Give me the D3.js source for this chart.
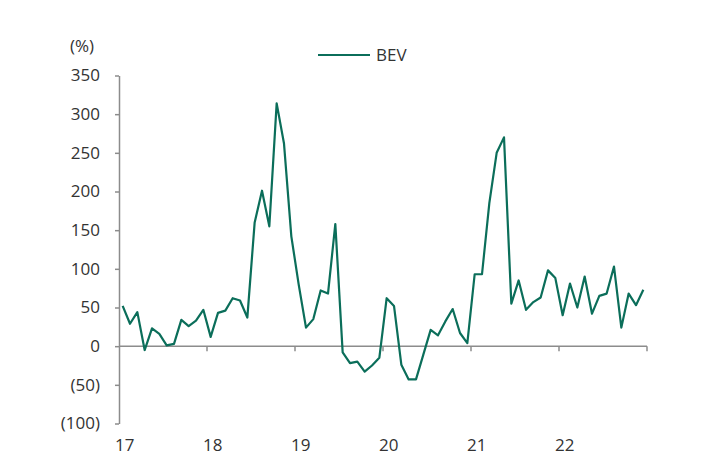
<!DOCTYPE html>
<html>
<head>
<meta charset="utf-8">
<script src="https://cdn.jsdelivr.net/npm/d3@7"></script>
<style>
  html, body { margin: 0; padding: 0; background: #fff; }
  svg { display: block; }
  text { font-family: "Open Sans", "Noto Sans", sans-serif; fill: #333; }
</style>
</head>
<body>
<svg id="chart" width="709" height="475"></svg>
<script>
const years = ["17", "18", "19", "20", "21", "22"];
const yTicks = [-100, -50, 0, 50, 100, 150, 200, 250, 300, 350];
const seriesName = "BEV";
const bev2017 = [52, 29, 44, -5, 23, 16, 1, 3, 34, 26, 33, 47];
const bev2018 = [12, 43, 46, 62, 59, 37, 160, 201, 155, 314, 262, 142];
const bev2019 = [80, 24, 35, 72, 68, 158, -8, -22, -20, -33, -25, -15];
const bev2020 = [62, 52, -24, -43, -43, -11, 21, 14, 32, 48, 17, 4];
const bev2021 = [93, 93, 185, 250, 270, 55, 85, 47, 57, 63, 98, 88];
const bev2022 = [40, 81, 50, 90, 42, 65, 68, 103, 24, 68, 53, 73];

const values = [].concat(bev2017, bev2018, bev2019, bev2020, bev2021, bev2022);
const data = values.map((v, i) => ({ i, v }));

const svg = d3.select("#chart");
const axisColor = "#8c8c8c";
const lineColor = "#0b6e5a";

const x = d3.scaleBand().domain(d3.range(values.length)).range([119, 647]);
const y = d3.scaleLinear().domain([-100, 350]).range([423.5, 75.5]);
const cx = i => x(i) + x.bandwidth() / 2;

// Y axis
const yAxis = d3.axisLeft(y).tickValues(yTicks).tickSize(4).tickSizeOuter(0)
  .tickFormat(d => d < 0 ? "(" + Math.abs(d) + ")" : String(d));
const gy = svg.append("g").attr("transform", "translate(119,0)").call(yAxis);
gy.select(".domain").attr("stroke", axisColor).attr("stroke-width", 1.5);
gy.selectAll(".tick line").attr("stroke", axisColor).attr("stroke-width", 1.5);
gy.selectAll(".tick text").attr("x", -19).attr("font-size", 17).attr("fill", "#333")
  .style("font-family", "'Open Sans', sans-serif");

// X axis at zero
const yearBounds = d3.range(1, years.length + 1).map(k => 119 + k * 12 * x.step());
const xg = svg.append("g");
xg.append("line").attr("x1", 119).attr("x2", 647).attr("y1", y(0)).attr("y2", y(0))
  .attr("stroke", axisColor).attr("stroke-width", 1.5);
xg.selectAll("line.tk").data(yearBounds).enter().append("line").attr("class", "tk")
  .attr("x1", d => d).attr("x2", d => d).attr("y1", y(0)).attr("y2", y(0) + 5)
  .attr("stroke", axisColor).attr("stroke-width", 1.5);

// Year labels
svg.selectAll("text.yr").data(years).enter().append("text").attr("class", "yr")
  .attr("x", (d, k) => cx(k * 12) + 2).attr("y", 451)
  .attr("text-anchor", "middle").attr("font-size", 17).text(d => d);

// Unit label
svg.append("text").attr("x", 82).attr("y", 52).attr("text-anchor", "middle")
  .attr("font-size", 17).text("(%)");

// Line
const line = d3.line().x(d => cx(d.i)).y(d => y(d.v));
svg.append("path").datum(data).attr("d", line).attr("fill", "none")
  .attr("stroke", lineColor).attr("stroke-width", 2.2).attr("stroke-linejoin", "round");

// Legend
svg.append("line").attr("x1", 318).attr("x2", 370).attr("y1", 55).attr("y2", 55)
  .attr("stroke", lineColor).attr("stroke-width", 2.2);
svg.append("text").attr("x", 376).attr("y", 61).attr("font-size", 17).text(seriesName);
</script>
</body>
</html>
